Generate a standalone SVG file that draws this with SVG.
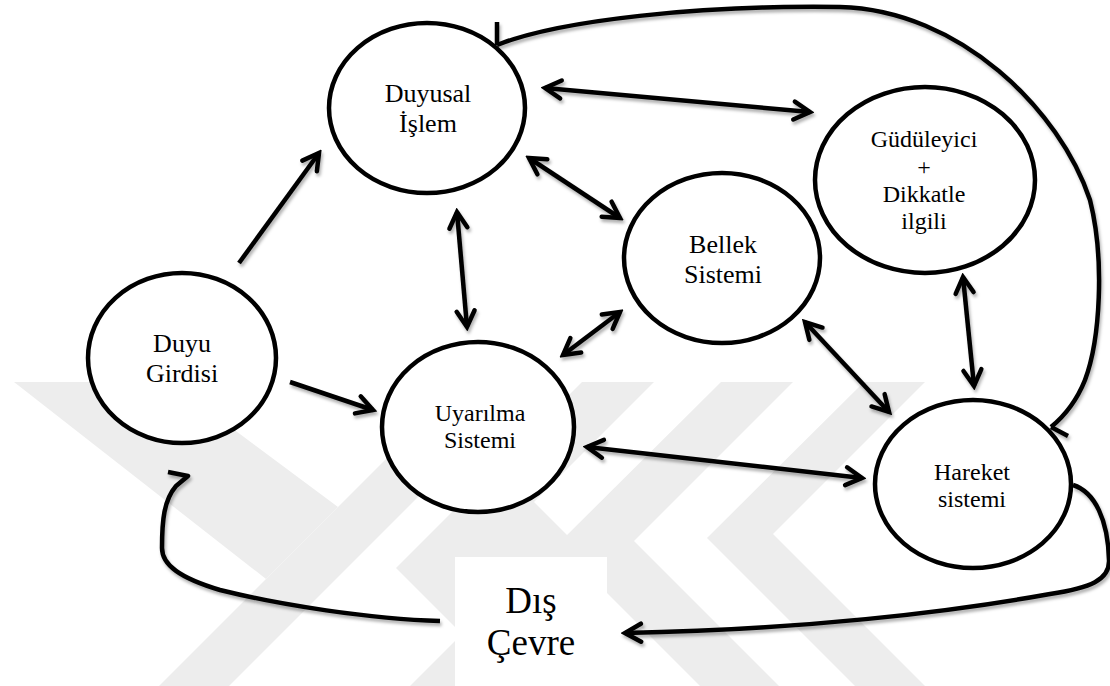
<svg xmlns="http://www.w3.org/2000/svg" width="1110" height="686" viewBox="0 0 1110 686">
  <style>
    .node ellipse { fill: #ffffff; stroke: #000000; stroke-width: 4.5; }
    .lbl { fill: #000000; text-anchor: middle; }
    .s26 { font-size: 26px; }
    .s24 { font-size: 24px; }
    .s37 { font-size: 37px; }
    .wire { fill: none; stroke: #000000; stroke-width: 4.5; stroke-linejoin: round; }
    .bg-mark { fill: #ededed; }
  </style>
  <defs>
    <marker id="head" markerUnits="userSpaceOnUse" viewBox="-20 -12 24 24" markerWidth="24" markerHeight="24" refX="0" refY="0" orient="auto-start-reverse">
      <path d="M -16 -9 L 0 0 L -16 9" fill="none" stroke="#000000" stroke-width="4.5" stroke-linejoin="miter" stroke-linecap="round"/>
    </marker>
    <filter id="soft" x="-10%" y="-10%" width="120%" height="130%">
      <feDropShadow dx="1.5" dy="3" stdDeviation="1.5" flood-color="#000000" flood-opacity="0.3"/>
    </filter>
  </defs>

  <rect x="0" y="0" width="1110" height="686" fill="#ffffff"/>

  <!-- faint background emblem -->
  <g id="emblem">
    <polygon class="bg-mark" points="14,382 170,382 338,507 266,579"/>
    <polygon class="bg-mark" points="463,382 533,382 229,686 159,686"/>
    <polygon class="bg-mark" points="582,382 654,382 534,502 600,568 482,686 410,686 462,634 396,568"/>
    <polygon class="bg-mark" points="721,382 793,382 634,541 779,686 700,686 558,544"/>
    <polygon class="bg-mark" points="864,382 925,382 773,534 925,686 855,686 707,538"/>
  </g>

  <g font-family="'Liberation Serif', 'DejaVu Serif', serif">
    <!-- Dış Çevre panel -->
    <g id="dis-cevre">
      <rect x="455" y="557" width="152" height="129" fill="#ffffff"/>
      <text class="lbl s37" x="531" y="613">Dış</text>
      <text class="lbl s37" x="531" y="655">Çevre</text>
    </g>

    <!-- connectors -->
    <g id="connectors" filter="url(#soft)">
      <path class="wire" d="M 239 263 L 319 153" marker-end="url(#head)"/>
      <path class="wire" d="M 457 212 L 467 327" marker-start="url(#head)" marker-end="url(#head)"/>
      <path class="wire" d="M 545 88 L 810 112" marker-start="url(#head)" marker-end="url(#head)"/>
      <path class="wire" d="M 529 158 L 620 218" marker-start="url(#head)" marker-end="url(#head)"/>
      <path class="wire" d="M 290 382 L 373 410" marker-end="url(#head)"/>
      <path class="wire" d="M 620 312 L 563 355" marker-start="url(#head)" marker-end="url(#head)"/>
      <path class="wire" d="M 805 322 L 889 412" marker-start="url(#head)" marker-end="url(#head)"/>
      <path class="wire" d="M 963 277 L 974 386" marker-start="url(#head)" marker-end="url(#head)"/>
      <path class="wire" d="M 587 447 L 862 478" marker-start="url(#head)" marker-end="url(#head)"/>
      <!-- loop over the top: Hareket sistemi back to Duyusal İşlem -->
      <path class="wire" d="M 497 45 C 560 20 700 5 840 7 C 960 10 1060 110 1090 200 C 1105 260 1100 340 1085 380 C 1075 405 1062 418 1051 427"/>
      <path class="wire" d="M 497 22 L 497 45"/>
      <path class="wire" d="M 1051 427 L 1068 436"/>
      <!-- Dış Çevre to Duyu Girdisi -->
      <path class="wire" d="M 440 621 C 370 619 280 605 220 590 C 180 578 162 565 162 548 C 162 520 164 500 176 486 L 188 476 L 168 472"/>
      <!-- Hareket sistemi to Dış Çevre -->
      <path class="wire" d="M 1073 485 C 1095 492 1108 520 1109 560 C 1110 580 1090 588 1050 594 C 950 612 800 630 625 633" marker-end="url(#head)"/>
    </g>

    <!-- nodes -->
    <g id="duyusal-islem" class="node">
      <ellipse cx="427" cy="108" rx="98" ry="85"/>
      <text class="lbl s26" x="428" y="102">Duyusal</text>
      <text class="lbl s26" x="428" y="132">İşlem</text>
    </g>
    <g id="duyu-girdisi" class="node">
      <ellipse cx="182" cy="358" rx="94" ry="85"/>
      <text class="lbl s26" x="182" y="352">Duyu</text>
      <text class="lbl s26" x="182" y="382">Girdisi</text>
    </g>
    <g id="uyarilma-sistemi" class="node">
      <ellipse cx="478" cy="427" rx="96" ry="85"/>
      <text class="lbl s24" x="480" y="421">Uyarılma</text>
      <text class="lbl s24" x="480" y="448">Sistemi</text>
    </g>
    <g id="bellek-sistemi" class="node">
      <ellipse cx="722" cy="258" rx="98" ry="85"/>
      <text class="lbl s26" x="723" y="253">Bellek</text>
      <text class="lbl s26" x="723" y="283">Sistemi</text>
    </g>
    <g id="gudeleyici" class="node">
      <ellipse cx="925" cy="180" rx="110" ry="93"/>
      <text class="lbl s24" x="924" y="147">Güdüleyici</text>
      <text class="lbl s24" x="924" y="175">+</text>
      <text class="lbl s24" x="924" y="202">Dikkatle</text>
      <text class="lbl s24" x="924" y="229">ilgili</text>
    </g>
    <g id="hareket-sistemi" class="node">
      <ellipse cx="973" cy="484" rx="98" ry="84"/>
      <text class="lbl s24" x="972" y="480">Hareket</text>
      <text class="lbl s24" x="972" y="507">sistemi</text>
    </g>
  </g>
</svg>
